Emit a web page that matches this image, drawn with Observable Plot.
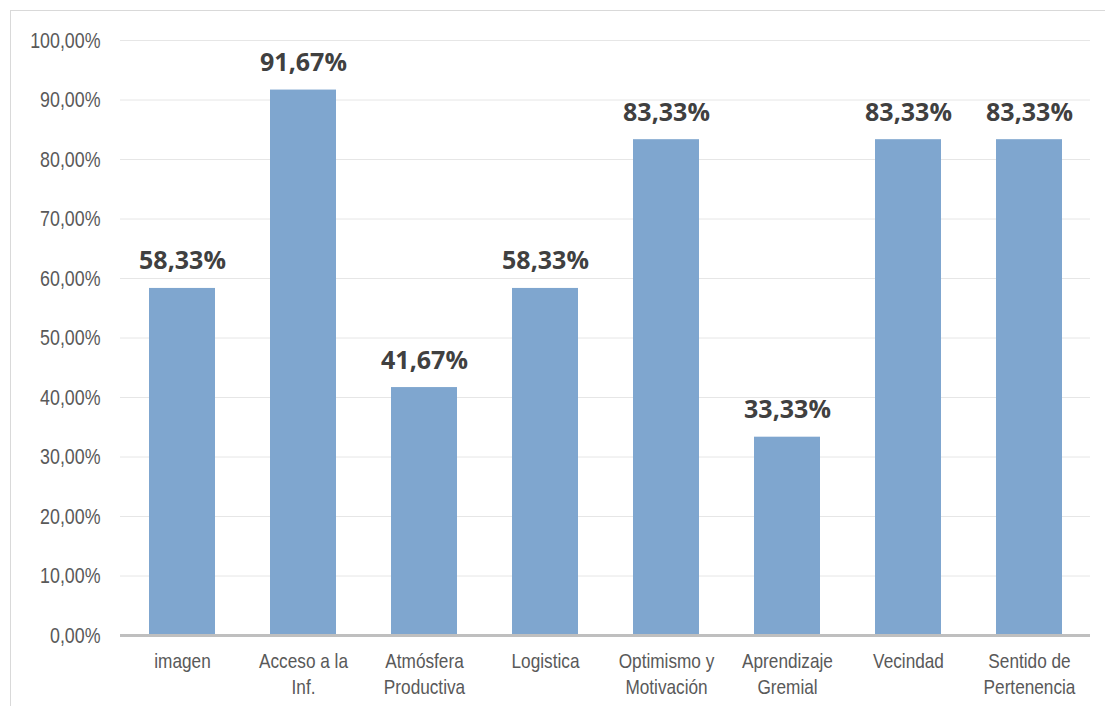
<!DOCTYPE html>
<html>
<head>
<meta charset="utf-8">
<script src="https://cdn.jsdelivr.net/npm/d3@7"></script>
<script src="https://cdn.jsdelivr.net/npm/@observablehq/plot@0.6"></script>
<style>
  html, body { margin: 0; padding: 0; background: #fff; overflow: hidden; width: 1105px; height: 706px; }
  #frame { position: absolute; left: 10px; top: 10px; width: 1200px; height: 800px; border: 1px solid #d9d9d9; box-sizing: border-box; }
  #chart { position: absolute; left: 0; top: 0; }
</style>
</head>
<body>
<div id="frame"></div>
<div id="chart"></div>
<script>
const categories = ["imagen", "Acceso a la\nInf.", "Atmósfera\nProductiva", "Logistica", "Optimismo y\nMotivación", "Aprendizaje\nGremial", "Vecindad", "Sentido de\nPertenencia"];
const values = [58.33, 91.67, 41.67, 58.33, 83.33, 33.33, 83.33, 83.33];
const yTicks = [0, 10, 20, 30, 40, 50, 60, 70, 80, 90, 100];

const data = categories.map((c, i) => ({category: c, value: values[i]}));
const fmt = v => v.toFixed(2).replace(".", ",") + "%";

const chart = Plot.plot({
  width: 1105,
  height: 706,
  marginLeft: 120,
  marginRight: 15,
  marginTop: 40,
  marginBottom: 71,
  style: {fontFamily: "'Liberation Sans Narrow', 'Liberation Sans', Arial, sans-serif", background: "transparent", color: "#595959"},
  x: {domain: categories, padding: 0.455, paddingOuter: 0.2275},
  y: {domain: [0, 100]},
  marks: [
    Plot.gridY(yTicks, {stroke: "#e6e6e6", strokeOpacity: 1, strokeWidth: 1}),
    Plot.barY(data, {x: "category", y: "value", fill: "#7fa6cf"}),
    Plot.ruleY([0], {stroke: "#bfbfbf", strokeWidth: 3}),
    Plot.axisY(yTicks, {tickSize: 0, tickPadding: 20, tickFormat: fmt, fontSize: 22, fill: "#595959", label: null}),
    Plot.axisX({tickSize: 0, tickPadding: 14, fontSize: 21, fill: "#595959", lineHeight: 1.25, label: null}),
    Plot.text(data, {x: "category", y: "value", text: d => fmt(d.value), dy: -19, lineAnchor: "bottom", fontSize: 25, fontWeight: "bold", fontFamily: "'Open Sans', sans-serif", fill: "#404040"})
  ]
});
document.getElementById("chart").appendChild(chart);

// Condense axis tick labels horizontally (reference uses a narrow typeface)
function condense(selector, sx) {
  chart.querySelectorAll(selector + " text").forEach(t => {
    const tr = t.getAttribute("transform");
    if (tr) {
      t.setAttribute("transform", tr + ` scale(${sx},1)`);
    } else {
      const x = +t.getAttribute("x") || 0, y = +t.getAttribute("y") || 0;
      t.removeAttribute("x"); t.removeAttribute("y");
      t.setAttribute("transform", `translate(${x},${y}) scale(${sx},1)`);
    }
  });
}
condense('[aria-label="y-axis tick label"]', 0.81);
condense('[aria-label="x-axis tick label"]', 0.82);
</script>
</body>
</html>
